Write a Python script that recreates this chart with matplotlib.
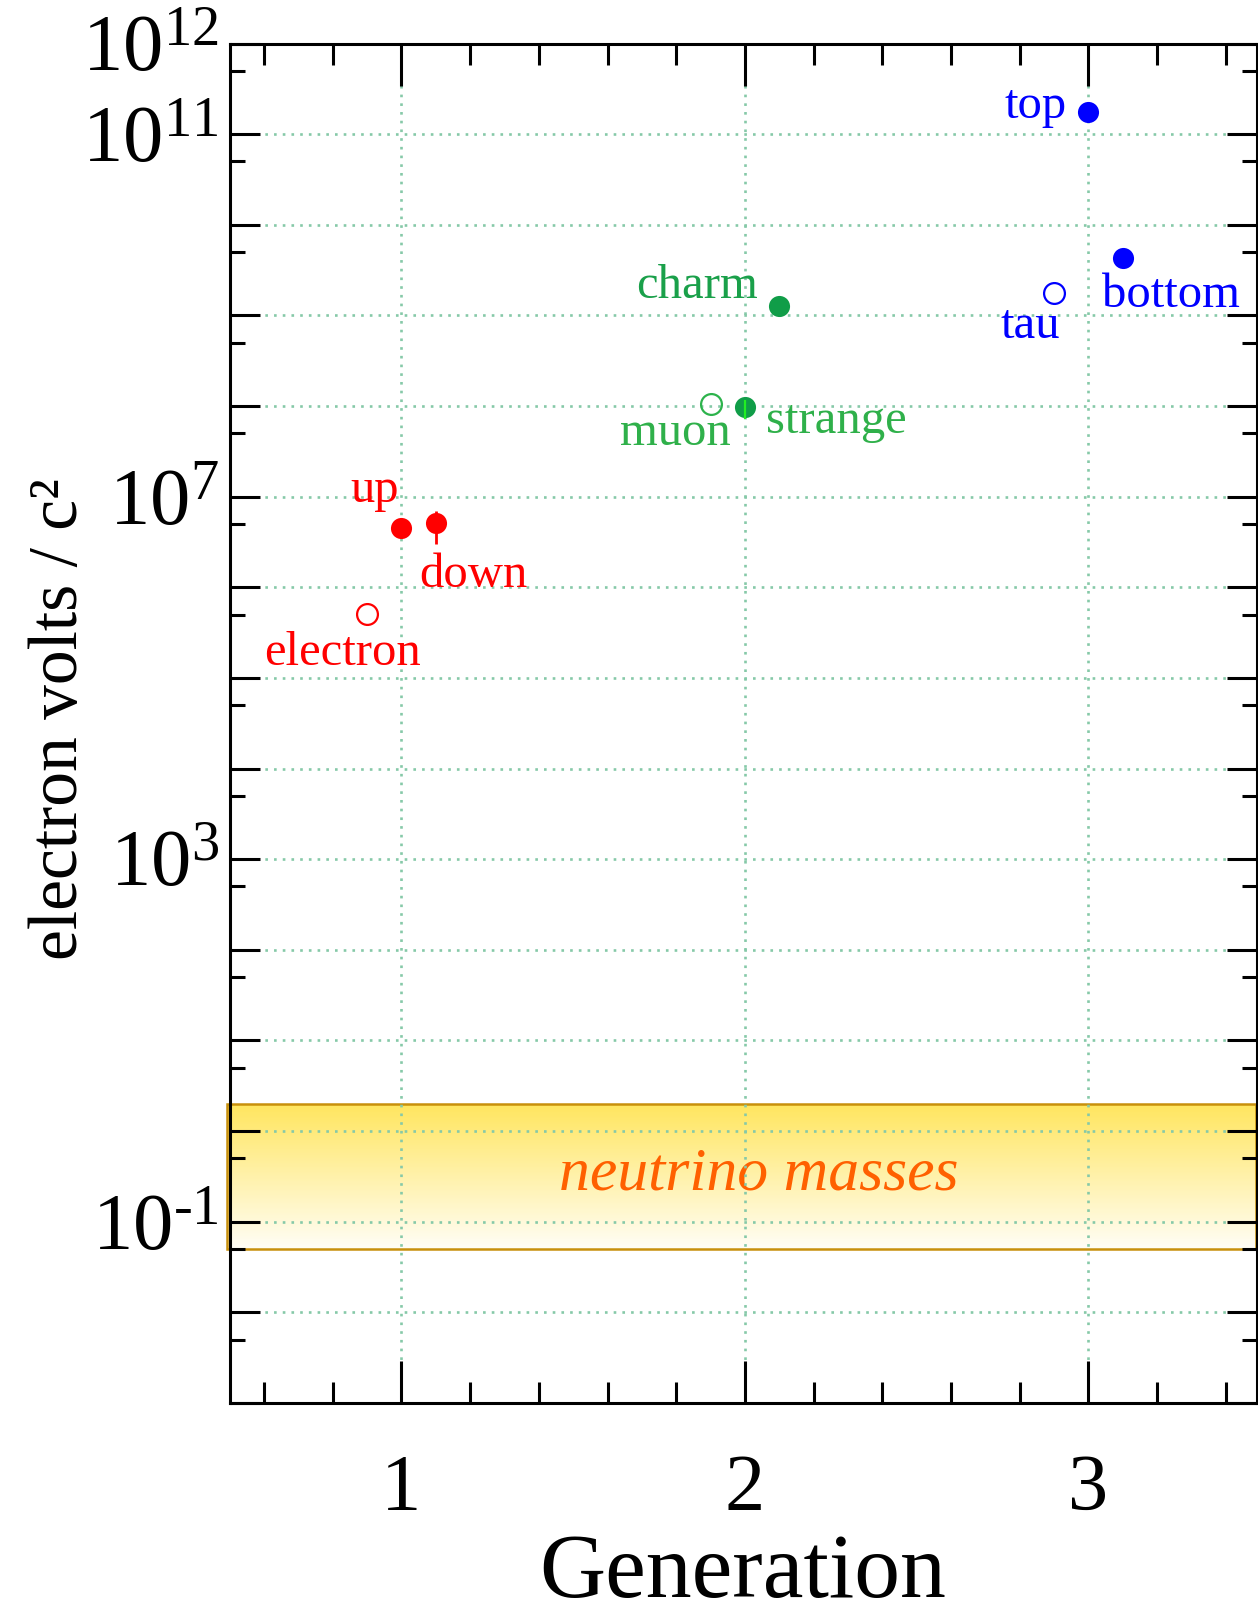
import numpy as np
import matplotlib
matplotlib.use("Agg")
import matplotlib.pyplot as plt
from matplotlib import ticker, colors as mcolors

plt.rcParams['font.family'] = ['Liberation Serif', 'DejaVu Serif']
plt.rcParams['mathtext.fontset'] = 'custom'
plt.rcParams['mathtext.rm'] = 'Liberation Serif'
plt.rcParams['mathtext.it'] = 'Liberation Serif:italic'

# ---- fermion masses (eV / c^2) ----
names      = ['electron', 'up', 'down', 'muon', 'strange', 'charm', 'tau', 'top', 'bottom']
generation = [0.9, 1.0, 1.1, 1.9, 2.0, 2.1, 2.9, 3.0, 3.1]
mass_ev    = [5.11e5, 4.5e6, 5.1e6, 1.057e8, 9.7e7, 1.27e9, 1.78e9, 1.75e11, 4.3e9]
is_lepton  = [True, False, False, True, False, False, True, False, False]

# mass ranges shown as error bars
err_names = ['down', 'strange']
err_low   = [3.0e6, 7.2e7]
err_high  = [7.0e6, 1.17e8]

# neutrino mass band (eV / c^2)
neutrino_low, neutrino_high = 0.05, 2.0

ytick_labelled = [12, 11, 7, 3, -1]
xtick_major = [1, 2, 3]

# ---- styling ----
marker_color = {'electron': '#ff0000', 'up': '#ff0000', 'down': '#ff0000',
                'muon': '#2db34c', 'strange': '#109d48', 'charm': '#109d48',
                'tau': '#0000ff', 'top': '#0000ff', 'bottom': '#0000ff'}
label_color = {'electron': '#ff0000', 'up': '#ff0000', 'down': '#ff0000',
               'muon': '#2fb04a', 'strange': '#2fb04a', 'charm': '#1aa04a',
               'tau': '#0000ff', 'top': '#0000ff', 'bottom': '#0000ff'}
err_color = {'down': '#ff0000', 'strange': '#22ee22'}
# label offsets from the marker, in pixels (dx, dy) with alignment
label_place = {
    'top':      (-22, -6, 'right', 'baseline'),
    'bottom':   (-21, -49, 'left', 'baseline'),
    'tau':      (-24, -45, 'center', 'baseline'),
    'charm':    (-21, 8, 'right', 'baseline'),
    'muon':     (-35, -41, 'center', 'baseline'),
    'strange':  (21, -26, 'left', 'baseline'),
    'up':       (-3, 26, 'right', 'baseline'),
    'down':     (-17, -64, 'left', 'baseline'),
    'electron': (-25, -51, 'center', 'baseline'),
}


def decade_label(v, pos):
    e = int(round(np.log10(v)))
    if e not in ytick_labelled:
        return ''
    exp = r'\text{-}%d' % abs(e) if e < 0 else '%d' % e
    return r'$\mathregular{10^{%s}}$' % exp


W, H = 1258, 1605
fig = plt.figure(figsize=(W / 100, H / 100), dpi=100)
left, right, top, bottom = 229.8, 1256.5, 43.5, 1403
ax = fig.add_axes([left / W, 1 - bottom / H, (right - left) / W, (bottom - top) / H])

ax.set_yscale('log')
ax.set_xlim(0.5, 3.49)
ax.set_ylim(1e-3, 1e12)

# neutrino band with vertical gradient
c_top = np.array(mcolors.to_rgb('#ffe55e'))
c_bot = np.array(mcolors.to_rgb('#fffdf6'))
n_strip = 120
edges = np.logspace(np.log10(neutrino_low), np.log10(neutrino_high), n_strip + 1)
for i in range(n_strip):
    t = (i + 0.5) / n_strip
    col = c_bot * (1 - t) + c_top * t
    ax.axhspan(edges[i], edges[i + 1], xmin=-0.003, xmax=1.0, facecolor=col,
               edgecolor='none', lw=0, zorder=1, clip_on=False)
ax.axhspan(neutrino_low, neutrino_high, xmin=-0.003, xmax=1.0, fill=False,
           edgecolor='#c8900c', lw=1.8, zorder=1.6, clip_on=False)
ax.text(0.515, 0.2275, 'neutrino masses', transform=ax.get_yaxis_transform(),
        ha='center', va='baseline', fontsize=44.5, style='italic',
        color='#ff6000', zorder=2)

# grid
ax.set_axisbelow(False)
ax.grid(True, which='major', color='#86c9a8', linestyle=(0, (1, 2.3)), lw=1.9)
for gl in ax.get_xgridlines() + ax.get_ygridlines():
    gl.set_zorder(1.8)

# error bars
for nm, lo, hi in zip(err_names, err_low, err_high):
    i = names.index(nm)
    ax.plot([generation[i], generation[i]], [lo, hi], color=err_color[nm],
            lw=2.0 if nm == 'down' else 1.6, solid_capstyle='butt',
            zorder=5 if nm == 'strange' else 3)

# markers and names
for nm, g, m, lep in zip(names, generation, mass_ev, is_lepton):
    c = marker_color[nm]
    if lep:
        ax.plot(g, m, 'o', ms=15, mfc='none', mec=c, mew=1.6, zorder=4)
    else:
        ax.plot(g, m, 'o', ms=15.2, mfc=c, mec=c, mew=0, zorder=4)
    dx, dy, ha, va = label_place[nm]
    ax.annotate(nm, (g, m), xytext=(dx * 0.72, dy * 0.72), textcoords='offset points',
                ha=ha, va=va, fontsize=35, color=label_color[nm], zorder=6)

# ticks
ax.xaxis.set_major_locator(ticker.FixedLocator(xtick_major))
ax.xaxis.set_minor_locator(ticker.MultipleLocator(0.2))
ax.xaxis.set_major_formatter(ticker.FixedFormatter([str(v) for v in xtick_major]))

decades = np.arange(-3, 13)
ax.yaxis.set_major_locator(ticker.FixedLocator(10.0 ** decades))
ax.yaxis.set_minor_locator(ticker.FixedLocator(5 * 10.0 ** decades[:-1]))
ax.yaxis.set_major_formatter(ticker.FuncFormatter(decade_label))
ax.yaxis.set_minor_formatter(ticker.NullFormatter())

ax.tick_params(which='both', direction='in', top=True, right=True,
               width=2.2, color='black', labelsize=58)
ax.xaxis.set_tick_params(which='major', length=30, pad=37)
ax.xaxis.set_tick_params(which='minor', length=15)
ax.yaxis.set_tick_params(which='major', length=21.6, pad=8)
ax.yaxis.set_tick_params(which='minor', length=10.8)

for sp in ax.spines.values():
    sp.set_linewidth(2.2)
    sp.set_zorder(7)

fig.text(743 / W, 1 - 1597 / H, 'Generation', ha='center', va='baseline',
         fontsize=66)
fig.text(77 / W, 1 - 719 / H, 'electron volts / c²', rotation=90,
         rotation_mode='anchor', ha='center', va='baseline', fontsize=50)

fig.savefig('out.png', dpi=100)
